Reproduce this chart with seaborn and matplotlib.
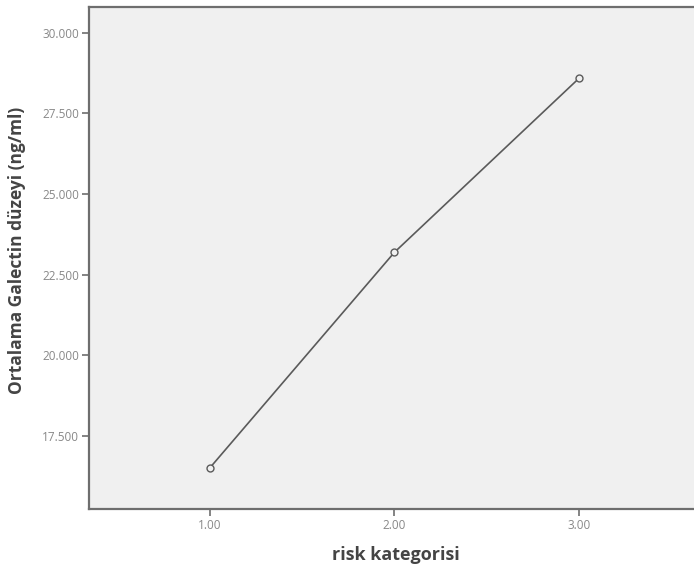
import numpy as np
import pandas as pd
import matplotlib
matplotlib.use('Agg')
import matplotlib.pyplot as plt
import seaborn as sns

# data
risk_kategorisi = [1.0, 2.0, 3.0]
ortalama_galectin = [16.50, 23.19, 28.59]

y_ticks = [17.5, 20.0, 22.5, 25.0, 27.5, 30.0]
y_tick_labels = ['17.500', '20.000', '22.500', '25.000', '27.500', '30.000']
x_ticks = [1.0, 2.0, 3.0]
x_tick_labels = ['1.00', '2.00', '3.00']

df = pd.DataFrame({'risk': risk_kategorisi, 'galectin': ortalama_galectin})

sns.set_style('white')
plt.rcParams['font.family'] = ['Open Sans', 'DejaVu Sans']

fig = plt.figure(figsize=(6.94, 5.65), dpi=100)
ax = fig.add_axes([0.128, 0.099, 0.885, 0.889])
ax.set_facecolor('#f0f0f0')

sns.lineplot(data=df, x='risk', y='galectin', ax=ax, color='#5a5a5a',
             linewidth=1.2, marker='o', markersize=5,
             markerfacecolor='#f0f0f0', markeredgecolor='#5a5a5a',
             markeredgewidth=1.0)

ax.set_xlim(0.344, 3.672)
ax.set_ylim(15.22, 30.81)
ax.set_xticks(x_ticks)
ax.set_xticklabels(x_tick_labels)
ax.set_yticks(y_ticks)
ax.set_yticklabels(y_tick_labels)

for side in ['left', 'bottom', 'top', 'right']:
    ax.spines[side].set_color('#6e6e6e')
    ax.spines[side].set_linewidth(1.6)

ax.tick_params(axis='both', which='major', bottom=True, left=True,
               length=5, width=1.2, color='#6e6e6e',
               labelsize=8.5, labelcolor='#888888', direction='out', pad=2)

ax.set_xlabel('risk kategorisi', fontsize=13, fontweight='bold', color='#444444', labelpad=10)
ax.set_ylabel('Ortalama Galectin düzeyi (ng/ml)', fontsize=12.5, fontweight='bold', color='#444444')
ax.yaxis.set_label_coords(-0.102, 0.515)

fig.savefig('out.png', dpi=100, facecolor='white')
